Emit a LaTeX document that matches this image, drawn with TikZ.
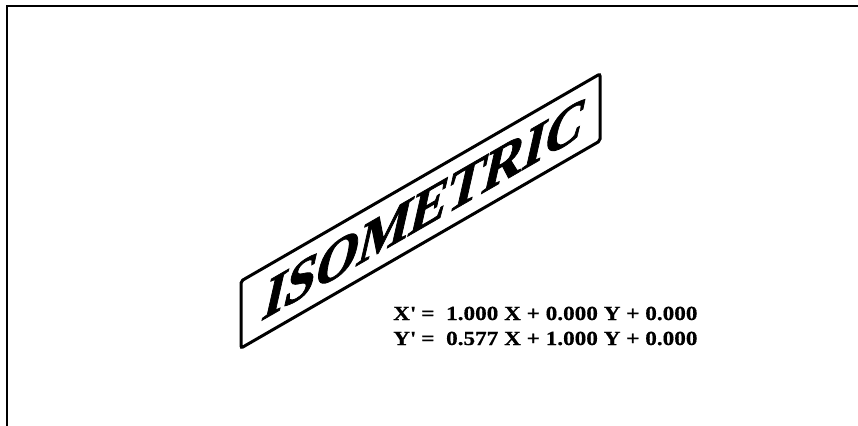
\documentclass[tikz,border=0pt]{standalone}
\usepackage{fontspec}
\usepackage{tikz}
\usetikzlibrary{positioning, calc}
\setmainfont{Liberation Serif}
\newfontfamily\isofont{Liberation Serif}[UprightFont=* Bold,
  FakeSlant=0.26, FakeBold=1.4]
\newfontfamily\eqfont{Liberation Serif}[UprightFont=* Bold,
  FakeStretch=1.16, FakeBold=0.6]
\definecolor{mydark}{RGB}{0,0,0}
\tikzset{
  frameline/.style={line width=2pt, color=mydark},
  isobox/.style={rectangle, draw=mydark, line width=3pt,
    rounded corners=2pt, minimum width=359pt, minimum height=67pt,
    inner sep=0pt, transform shape},
  isotext/.style={font=\isofont\fontsize{55}{60}\selectfont},
  eqtext/.style={font=\eqfont\fontsize{20}{24}\selectfont,
    anchor=base west, inner sep=0pt}
}

\begin{document}
\begin{tikzpicture}[x=1pt, y=-1pt]
  \useasboundingbox (0,0) rectangle (858,425);
  % page frame
  \draw[frameline] (7,426) -- (7,6) -- (859,6);
  % sheared label
  \begin{scope}[shift={(420.5,211)}, yslant=0.577]
    \node[isobox, isotext] (iso) at (0,0) {ISOMETRIC};
  \end{scope}
  % transformation
  \node[eqtext] (eqx) at (393,320)
    {X\textquotesingle\ = \ 1.000 X + 0.000 Y + 0.000};
  \node[eqtext] (eqy) at ([yshift=-25pt]eqx.base west)
    {Y\textquotesingle\ = \ 0.577 X + 1.000 Y + 0.000};
\end{tikzpicture}
\end{document}
